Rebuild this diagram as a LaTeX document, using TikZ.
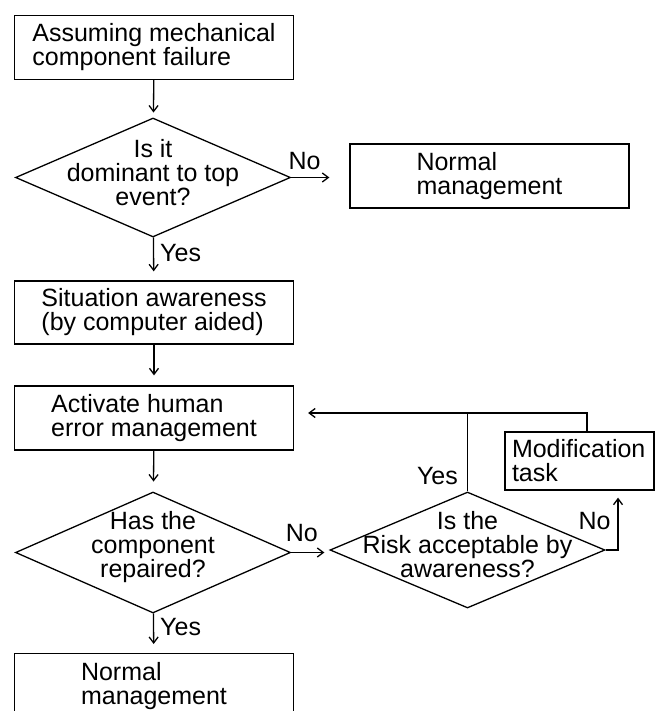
\documentclass[tikz,border=0pt]{standalone}
\usepackage{fontspec}
\setmainfont{Liberation Sans}
\usetikzlibrary{shapes.geometric, arrows.meta}

\begin{document}
\begin{tikzpicture}[x=1pt, y=-1pt,
      every node/.style={font=\fontsize{25}{24}\selectfont},
      box/.style={draw, line width=1.3pt, minimum width=279pt, minimum height=64pt,
                  align=left, inner sep=0pt},
      decision/.style={draw, diamond, line width=1.3pt, minimum width=275pt,
                       minimum height=119pt, inner sep=0pt},
      qtext/.style={align=center, inner sep=0pt, yshift=5pt},
      flow/.style={line width=1.3pt, -{Straight Barb[length=6pt, width=9pt]}},
      wire/.style={line width=1.3pt},
      tag/.style={inner sep=0pt}]

    \useasboundingbox (0,0) rectangle (655,711);

    % main column
    \node[box] (fail) at (154,47.5) {Assuming mechanical\\component failure};
    \node[decision] (dom) at (153,177.5) {};
    \node[qtext] (domq) at (dom) {Is it\\dominant to top\\event?};
    \node[box] (norm1) at (489.5,176) {Normal\\management};
    \node[box, minimum height=63pt] (aware) at (154,312.5) {Situation awareness\\(by computer aided)};
    \node[box] (activ) at (154,418) {Activate human\\error management};
    \node[decision, minimum height=121pt] (rep) at (153,552.5) {};
    \node[qtext] (repq) at (rep) {Has the\\component\\repaired?};
    \node[box, anchor=north] (norm2) at (154,653) {Normal\\management};

    % risk check and modification loop
    \node[decision, minimum height=116pt] (risk) at (467.5,550) {};
    \node[qtext] (riskq) at (risk) {Is the\\Risk acceptable by\\awareness?};
    \node[box, minimum width=149pt, minimum height=58pt, text width=135pt] (modif) at (579.5,461) {Modification\\task};
    \coordinate (jn) at (467.5,413);

    % connectors
    \draw[flow, shorten >=5pt] (fail) -- (dom);
    \draw[flow, shorten >=20pt] (dom.east) -- node[tag, above=7pt, pos=0.23] {No} (dom.east -| norm1.west);
    \draw[flow, shorten >=9pt] (dom) -- node[tag, right=6pt, pos=0.36] {Yes} (aware);
    \draw[flow, shorten >=10pt] (aware) -- (activ);
    \draw[flow, shorten >=10pt] (activ) -- (rep);
    \draw[flow, shorten >=9pt] (rep) -- node[tag, right=6pt, pos=0.35] {Yes} (norm2);
    \draw[flow, shorten >=5pt] (rep.east) -- node[tag, above=10pt, pos=0.28] {No} (rep.east -| risk.west);
    % yes: back to human error management
    \draw[wire] (risk.north) -- node[tag, left=9pt, pos=0.2] {Yes} (jn);
    \draw[flow, shorten >=14pt] (jn) -- (jn -| activ.east);
    \draw[wire] ([xshift=7.5pt]modif.north) |- (jn);
    % no: modification task
    \draw[flow, shorten >=7pt] (risk.east) -| node[tag, pos=0, above=20pt, xshift=-11pt] {No} ([xshift=38.5pt]modif.south);
\end{tikzpicture}
\end{document}
